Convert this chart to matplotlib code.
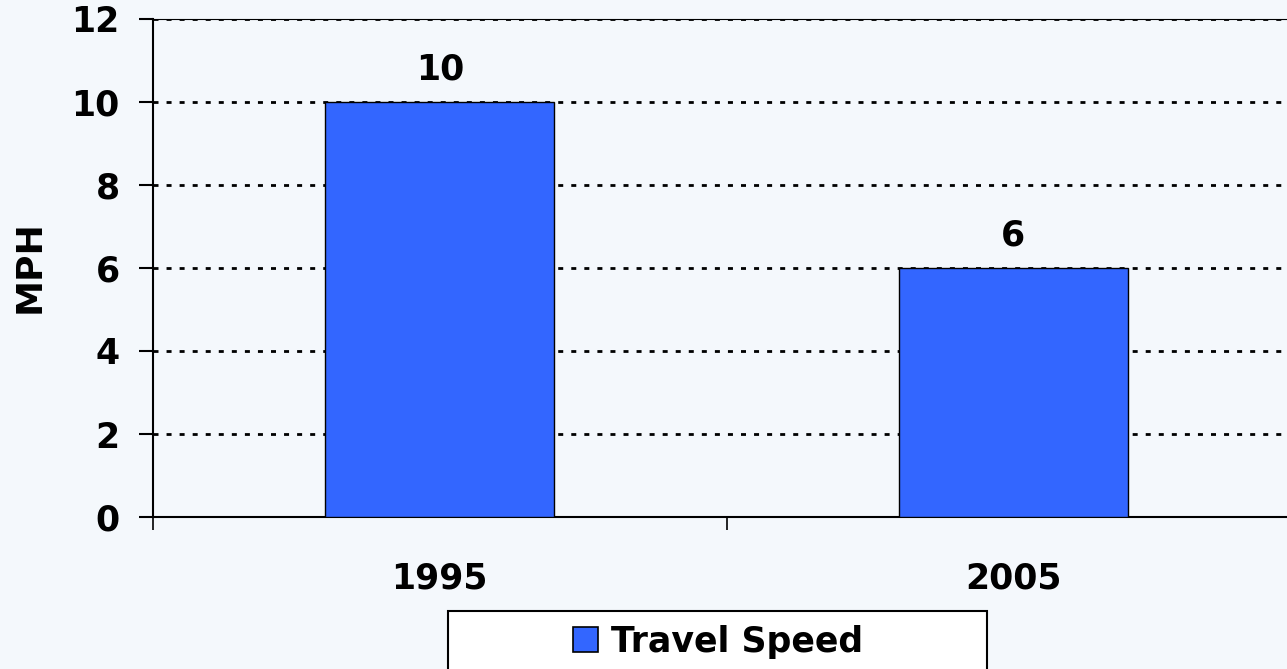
import numpy as np
import matplotlib
matplotlib.use("Agg")
import matplotlib.pyplot as plt
from matplotlib.patches import Patch, Rectangle

# chart data
years = ["1995", "2005"]
speed = [10, 6]
yticks = [0, 2, 4, 6, 8, 10, 12]
series_name = "Travel Speed"

bg = "#F4F8FC"
bar_color = "#3366FF"
W, H = 1287, 669

plt.rcParams["font.family"] = ["DejaVu Sans"]
plt.rcParams["font.weight"] = "bold"
plt.rcParams["lines.scale_dashes"] = False

fig = plt.figure(figsize=(W / 100, H / 100), dpi=100, facecolor=bg)
# plot area runs past the right edge, as in the reference
ax = fig.add_axes([153 / W, 1 - 517 / H, 1147 / W, 498 / H], facecolor=bg)

centers = np.arange(len(years)) + 0.5
bars = ax.bar(centers, speed, width=0.4, color=bar_color, edgecolor="black",
              linewidth=1.0, zorder=3)
for x, v in zip(centers, speed):
  ax.annotate(str(v), (x, v), xytext=(0, 16.5), textcoords="offset points",
              ha="center", va="baseline", fontsize=25, fontweight="bold")

ax.set_xlim(0, len(years))
ax.set_ylim(0, 12)
ax.set_yticks(yticks)
ax.set_yticklabels([str(t) for t in yticks], fontsize=25, fontweight="bold")
ax.tick_params(axis="y", direction="out", length=10, width=1.5, pad=14)

# category boundaries get the ticks, labels sit at the centers
ax.set_xticks(np.arange(len(years) + 1))
ax.set_xticklabels([])
ax.tick_params(axis="x", which="major", direction="out", length=9.5, width=1.2)
ax.set_xticks(centers, minor=True)
ax.set_xticklabels(years, minor=True, fontsize=25, fontweight="bold")
ax.tick_params(axis="x", which="minor", length=0, pad=32)

ax.set_axisbelow(True)
ax.yaxis.grid(True, color="black", linewidth=2.0, linestyle=(0, (3.6, 5.8)))

for side in ["left", "bottom"]:
  ax.spines[side].set_linewidth(1.5)
ax.spines["top"].set_linewidth(0.8)
ax.spines["right"].set_visible(False)

fig.text(29.5 / W, 1 - 267 / H, "MPH", rotation=90, ha="center", va="center",
         fontsize=26, fontweight="bold")

# legend box hangs off the bottom of the figure
fig.add_artist(Rectangle((448 / W, -40 / H), 539 / W, (709 - 611) / H,
                         transform=fig.transFigure, facecolor="white",
                         edgecolor="black", linewidth=1.5, zorder=1))
fig.legend([Patch(facecolor=bar_color, edgecolor="black", linewidth=1.2)],
           [series_name], loc="center", bbox_to_anchor=(718 / W, 1 - 642 / H),
           frameon=False, prop={"size": 25, "weight": "bold"},
           handlelength=0.72, handleheight=0.72, handletextpad=0.37,
           borderpad=0, borderaxespad=0)

fig.savefig("out.png", dpi=100, facecolor=bg)
